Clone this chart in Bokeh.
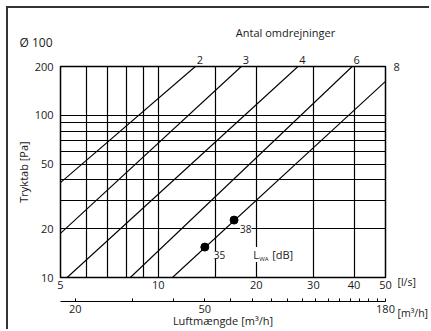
from bokeh.plotting import figure
from bokeh.models import Range1d, LogScale, LogAxis, FixedTicker, Label, BasicTickFormatter, ColumnDataSource
from bokeh.core.properties import value
from bokeh.embed import file_html
from bokeh.resources import INLINE

# ---- data ----
flow_range = [5, 50]            # l/s
pa_range = [10, 200]            # Pa
ls_to_m3h = 3.6
flow_ticks = [5, 10, 20, 30, 40, 50]
flow_grid = [6, 7, 8, 9, 10, 15, 20, 30, 40]
pa_ticks = [10, 20, 50, 100, 200]
pa_grid = [20, 30, 40, 50, 60, 70, 80, 90, 100]
m3h_ticks = [20, 30, 40, 50, 60, 70, 80, 90, 100, 110, 120, 130, 140, 150, 160, 170, 180]
m3h_shown = [20, 50, 180]

turns = ["2", "3", "4", "6", "8"]
line_x0 = [5.0, 5.0, 5.24, 8.2, 11.05]
line_y0 = [38.5, 18.7, 10.0, 10.0, 10.0]
line_x1 = [13.0, 18.0, 26.9, 39.5, 50.0]
line_y1 = [200.0, 200.0, 200.0, 200.0, 162.0]

pt_flow = [13.9, 17.1]
pt_pa = [15.4, 22.6]
pt_lwa = ["35", "38"]

FONT = "Open Sans"
TXT = "#1a1a1a"

W, H = 423, 323
MB_L, MB_R, MB_T, MB_B = 52, 46, 58, 54

p = figure(width=W, height=H, x_axis_type="log", y_axis_type="log",
           x_range=Range1d(*flow_range), y_range=Range1d(*pa_range),
           output_backend="svg", toolbar_location=None,
           min_border_left=MB_L, min_border_right=MB_R, min_border_top=MB_T, min_border_bottom=MB_B)
p.styles = {"margin-left": "6px", "margin-top": "6px",
            "border-left": "2px solid #333", "border-top": "2px solid #333"}
p.outline_line_color = "black"
p.outline_line_width = 1.5
p.background_fill_color = "white"
p.border_fill_color = "white"

# grid
p.xgrid.ticker = FixedTicker(ticks=flow_grid)
p.ygrid.ticker = FixedTicker(ticks=pa_grid)
for g in (p.xgrid, p.ygrid):
    g.grid_line_color = "black"
    g.grid_line_width = 1.2
    g.grid_line_alpha = 1.0

# main x axis (l/s)
xa = p.xaxis[0]
xa.ticker = FixedTicker(ticks=flow_ticks)
xa.formatter = BasicTickFormatter()
xa.major_tick_out = 0
xa.major_tick_in = 0
xa.minor_tick_out = 0
xa.minor_tick_in = 0
xa.axis_line_color = None
xa.major_label_standoff = 3
xa.major_label_text_font = FONT
xa.major_label_text_font_size = "11px"
xa.major_label_text_color = TXT
xa.axis_label = "\u00a0"
xa.axis_label_text_font_size = "3px"
xa.axis_label_standoff = 4

# y axis
ya = p.yaxis[0]
ya.ticker = FixedTicker(ticks=pa_ticks)
ya.formatter = BasicTickFormatter()
ya.major_tick_out = 0
ya.major_tick_in = 0
ya.minor_tick_out = 0
ya.minor_tick_in = 0
ya.axis_line_color = None
ya.major_label_standoff = 7
ya.major_label_text_font = FONT
ya.major_label_text_font_size = "11px"
ya.major_label_text_color = TXT
ya.axis_label = "Tryktab [Pa]"
ya.axis_label_text_font = FONT
ya.axis_label_text_font_size = "11px"
ya.axis_label_text_font_style = "normal"
ya.axis_label_text_color = TXT
ya.axis_label_standoff = 1

# secondary x axis (m3/h)
p.extra_x_ranges = {"m3h": Range1d(flow_range[0] * ls_to_m3h, flow_range[1] * ls_to_m3h)}
p.extra_x_scales = {"m3h": LogScale()}
overrides = {t: (str(t) if t in m3h_shown else "") for t in m3h_ticks}
xb = LogAxis(x_range_name="m3h", ticker=FixedTicker(ticks=m3h_ticks),
             formatter=BasicTickFormatter(), major_label_overrides=overrides,
             major_tick_in=3, major_tick_out=0, minor_tick_in=0, minor_tick_out=0,
             axis_line_width=1.2, axis_line_color="black", major_tick_line_width=1,
             major_label_standoff=3,
             major_label_text_font=FONT, major_label_text_font_size="11px",
             major_label_text_color=TXT,
             axis_label="Luftmængde [m³/h]", axis_label_text_font=FONT,
             axis_label_text_font_size="11px", axis_label_text_font_style="normal",
             axis_label_text_color=TXT, axis_label_standoff=-3)
p.add_layout(xb, "below")

# top axis carrying the "Antal omdrejninger" line labels 2, 3, 4, 6
# (its range is the flow range nudged by a few pixels so the digits sit just right of the line ends)
frame_w = W - MB_L - MB_R
nudge = 10 ** (4.5 / frame_w)
p.extra_x_ranges["lbl"] = Range1d(flow_range[0] / nudge, flow_range[1] / nudge)
p.extra_x_scales["lbl"] = LogScale()
top_ticks = line_x1[:4]
xt = LogAxis(x_range_name="lbl", ticker=FixedTicker(ticks=top_ticks), formatter=BasicTickFormatter(),
             major_label_overrides={x: t for x, t in zip(top_ticks, turns[:4])},
             major_tick_in=0, major_tick_out=0, minor_tick_in=0, minor_tick_out=0,
             axis_line_color=None, major_label_standoff=3,
             major_label_text_font=FONT, major_label_text_font_size="11px",
             major_label_text_color=TXT)
p.add_layout(xt, "above")

# diagonal lines
src = ColumnDataSource(dict(x0=line_x0, y0=line_y0, x1=line_x1, y1=line_y1, t=turns))
p.segment("x0", "y0", "x1", "y1", source=src, line_color="black", line_width=1.1)

# points
p.scatter(pt_flow, pt_pa, size=8, color="black")
p.text(x=pt_flow, y=pt_pa, text=pt_lwa, x_offset=[9, 6], y_offset=[8, 9],
       text_font=value(FONT), text_font_size="10px", text_color=TXT,
       text_align="left", text_baseline="middle", background_fill_color="white")


def lab(x, y, text, dx, dy, size="11px", align="left", bg=None, place=None, **extra):
    kw = dict(x=x, y=y, text=text, x_offset=dx, y_offset=dy, text_font=FONT,
              text_font_size=size, text_color=TXT, text_align=align, text_baseline="middle")
    kw.update(extra)
    if bg:
        kw["background_fill_color"] = bg
    if place:
        p.add_layout(Label(**kw), place)
    else:
        p.add_layout(Label(**kw))


# texts outside the frame live in side panels so that they are not clipped
lab(flow_range[0], pa_range[1], "Ø 100", -41, 24, size="12px", place="above")
lab(flow_range[0], pa_range[1], "Antal omdrejninger", 225, 34, align="center", place="above")
lab(flow_range[1], pa_range[1], turns[-1], 8, 0, place="right")
lab(flow_range[1], pa_range[0], "[l/s]\n[m³/h]", 12, -20, size="10.5px", place="right",
    text_line_height=2.2)

# L_WA [dB] inside the frame
lab(20, pa_range[0], "L", -3, 23, bg="white")
lab(20, pa_range[0], "WA", 3, 19, size="6px", bg="white")
lab(20, pa_range[0], "[dB]", 16, 23, bg="white")

open("out.html", "w").write(file_html(p, INLINE))
